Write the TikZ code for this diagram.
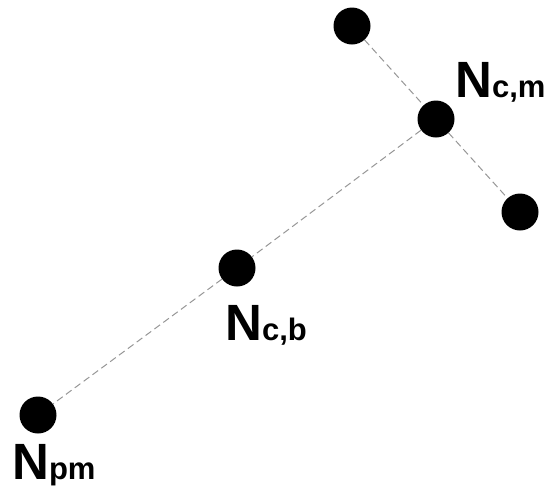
\documentclass[tikz,border=0pt]{standalone}
\usepackage{fontspec}
\setmainfont{Liberation Sans}
\begin{document}
\begin{tikzpicture}[x=1pt,y=-1pt,
  dot/.style={circle,fill=black,inner sep=0pt,minimum size=37pt},
  link/.style={draw={rgb,255:red,150;green,150;blue,150},line width=1pt,dash pattern=on 7pt off 4pt},
  lbl/.style={anchor=base west,inner sep=0pt,font=\bfseries}]
\useasboundingbox (0,0) rectangle (555,493);
\node[dot] (t) at (352,26) {};
\node[dot] (m) at (436,119) {};
\node[dot] (r) at (520,212) {};
\node[dot] (b) at (237,268) {};
\node[dot] (p) at (38,415) {};
\draw[link] (t) -- (m);
\draw[link] (m) -- (r);
\draw[link] (m) -- (b);
\draw[link] (b) -- (p);
\node[lbl] (lm) at (455,97) {\fontsize{51}{51}\selectfont N\fontsize{31}{31}\selectfont c,m};
\node[lbl] (lb) at (225,340) {\fontsize{51}{51}\selectfont N\fontsize{31}{31}\selectfont c,b};
\node[lbl] (lp) at (12,479) {\fontsize{51}{51}\selectfont N\fontsize{31}{31}\selectfont pm};
\end{tikzpicture}
\end{document}
